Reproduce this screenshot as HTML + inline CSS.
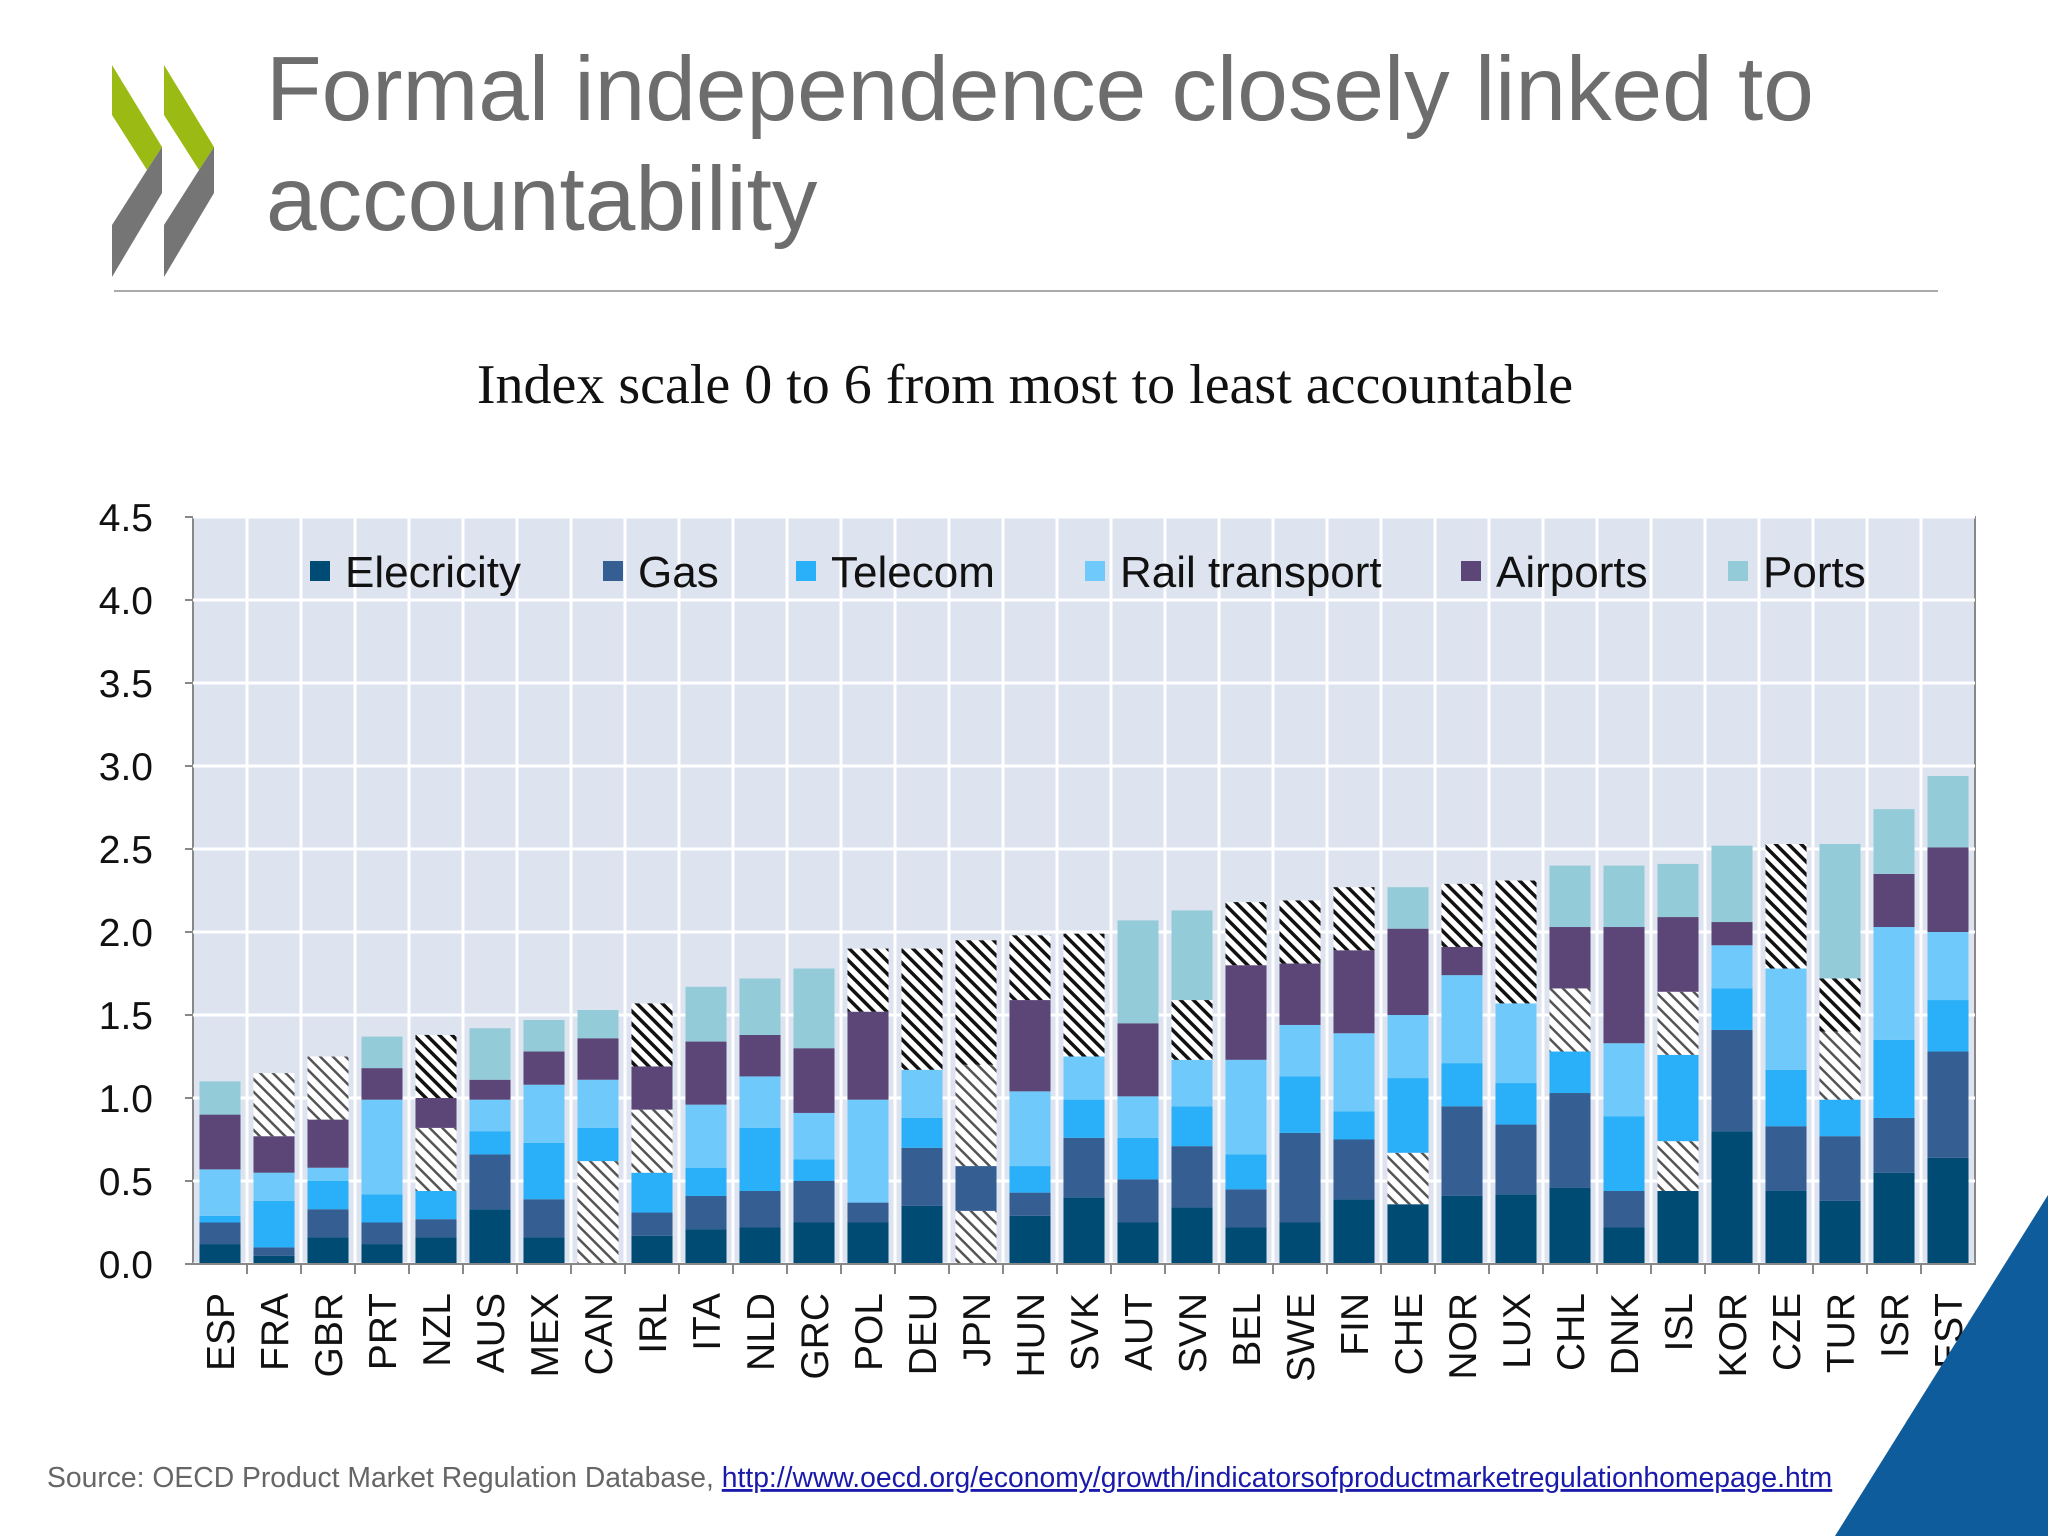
<!DOCTYPE html>
<html><head><meta charset="utf-8"><style>
body{margin:0;width:2048px;height:1536px;background:#fff;overflow:hidden;font-family:"Liberation Sans",sans-serif}
svg{display:block}
</style></head><body>
<svg id="c" width="2048" height="1536" xmlns="http://www.w3.org/2000/svg">
<defs>
<pattern id="hl" width="9" height="9" patternUnits="userSpaceOnUse" patternTransform="rotate(-45)"><rect width="9" height="9" fill="#fff"/><rect width="2.5" height="9" fill="#555"/></pattern>
<pattern id="hd" width="9" height="9" patternUnits="userSpaceOnUse" patternTransform="rotate(-45)"><rect width="9" height="9" fill="#fff"/><rect width="3.5" height="9" fill="#111"/></pattern>
</defs>
<g>
<polygon points="112,65 162,147 147,170 112,115" fill="#9bbb14"/>
<polygon points="147,170 162,147 162,193 112,277 112,225" fill="#757575"/>
<polygon points="164,65 214,147 199,170 164,115" fill="#9bbb14"/>
<polygon points="199,170 214,147 214,193 164,277 164,225" fill="#757575"/>
</g>
<text x="266" y="120" font-size="91" fill="#6d6d6d">Formal independence closely linked to</text>
<text x="266" y="230" font-size="91" fill="#6d6d6d">accountability</text>
<line x1="114" y1="291" x2="1938" y2="291" stroke="#aaa" stroke-width="2"/>
<text x="1025" y="403" font-size="56" text-anchor="middle" font-family="Liberation Serif,serif" fill="#111">Index scale 0 to 6 from most to least accountable</text>
<rect x="193" y="517" width="1782" height="747" fill="#dde4f0" stroke="#888" stroke-width="2"/>
<g id="grid"></g><g id="bars"></g><g id="axes"></g><g id="legend"></g>
<polygon points="2048,1195 2048,1536 1835,1536" fill="#0f5c9c"/>
<text x="47" y="1487" font-size="28.3" fill="#666">Source: OECD Product Market Regulation Database, <tspan fill="#1a1aaa" text-decoration="underline">http://www.oecd.org/economy/growth/indicatorsofproductmarketregulationhomepage.htm</tspan></text>
</svg>
<script>
const countries=["ESP","FRA","GBR","PRT","NZL","AUS","MEX","CAN","IRL","ITA","NLD","GRC","POL","DEU","JPN","HUN","SVK","AUT","SVN","BEL","SWE","FIN","CHE","NOR","LUX","CHL","DNK","ISL","KOR","CZE","TUR","ISR","EST"];
const seriesNames=["Elecricity","Gas","Telecom","Rail transport","Airports","Ports"];
// cumulative tops per series
const elecTop=[0.12,0.05,0.16,0.12,0.16,0.33,0.16,0.62,0.17,0.21,0.22,0.25,0.25,0.35,0.32,0.29,0.40,0.25,0.34,0.22,0.25,0.39,0.36,0.41,0.42,0.46,0.22,0.44,0.80,0.44,0.38,0.55,0.64];
const gasTop=[0.25,0.10,0.33,0.25,0.27,0.66,0.39,0.62,0.31,0.41,0.44,0.50,0.37,0.70,0.59,0.43,0.76,0.51,0.71,0.45,0.79,0.75,0.67,0.95,0.84,1.03,0.44,0.74,1.41,0.83,0.77,0.88,1.28];
const telTop=[0.29,0.38,0.50,0.42,0.44,0.80,0.73,0.82,0.55,0.58,0.82,0.63,0.37,0.88,0.59,0.59,0.99,0.76,0.95,0.66,1.13,0.92,1.12,1.21,1.09,1.28,0.89,1.26,1.66,1.17,0.99,1.35,1.59];
const railTop=[0.57,0.55,0.58,0.99,0.82,0.99,1.08,1.11,0.93,0.96,1.13,0.91,0.99,1.17,1.20,1.04,1.25,1.01,1.23,1.23,1.44,1.39,1.50,1.74,1.57,1.66,1.33,1.64,1.92,1.78,1.40,2.03,2.00];
const airTop=[0.90,0.77,0.87,1.18,1.00,1.11,1.28,1.36,1.19,1.34,1.38,1.30,1.52,1.17,1.20,1.59,1.25,1.45,1.59,1.80,1.81,1.89,2.02,1.91,1.57,2.03,2.03,2.09,2.06,1.78,1.72,2.35,2.51];
const portTop=[1.10,1.15,1.25,1.37,1.38,1.42,1.47,1.53,1.57,1.67,1.72,1.78,1.90,1.90,1.95,1.98,1.99,2.07,2.13,2.18,2.19,2.27,2.27,2.29,2.31,2.40,2.40,2.41,2.52,2.53,2.53,2.74,2.94];
// hatch flags: 0 none, 1 light hatch, 2 dark hatch
const elecHatch=[0,0,0,0,0,0,0,1,0,0,0,0,0,0,1,0,0,0,0,0,0,0,0,0,0,0,0,0,0,0,0,0,0];
const gasHatch=[0,0,0,0,0,0,0,0,0,0,0,0,0,0,0,0,0,0,0,0,0,0,1,0,0,0,0,1,0,0,0,0,0];
const railHatch=[0,0,0,0,1,0,0,0,1,0,0,0,0,0,1,0,0,0,0,0,0,0,0,0,0,1,0,1,0,0,1,0,0];
const airHatch=[0,0,0,0,0,0,0,0,0,0,0,0,0,0,0,0,0,0,2,0,0,0,0,0,0,0,0,0,0,0,2,0,0];
const portHatch=[0,1,1,0,2,0,0,0,2,0,0,0,2,2,2,2,2,0,0,2,2,2,0,2,2,0,0,0,0,2,0,0,0];
const yTicks=["0.0","0.5","1.0","1.5","2.0","2.5","3.0","3.5","4.0","4.5"];
const colors=["#004b73","#355f92","#29b0f8","#6fc9fb","#5b4677","#93cbd9"];
const NS="http://www.w3.org/2000/svg";
const X0=193,X1=1975,Y0=1264,Y1=517,YMAX=4.5;
const step=(X1-X0)/countries.length;
const y=v=>Y0-(v/YMAX)*(Y0-Y1);
const xc=i=>X0+step*(i+0.5);
function mk(tag,attrs,parent){const e=document.createElementNS(NS,tag);for(const k in attrs)e.setAttribute(k,attrs[k]);parent.appendChild(e);return e;}
const grid=document.getElementById('grid'),bars=document.getElementById('bars'),axes=document.getElementById('axes'),leg=document.getElementById('legend');
yTicks.forEach(t=>{const v=parseFloat(t);const yy=y(v);
 const l=mk('line',{x1:X0,x2:X1,y1:yy,y2:yy,stroke:'#fff','stroke-width':3},grid);
 
 
 const tk=mk('line',{x1:X0-8,x2:X0,y1:yy,y2:yy,stroke:'#888','stroke-width':2},axes);
 
 
 const tx=mk('text',{x:153,y:yy+14,'font-size':39,'text-anchor':'end',fill:'#111'},axes);tx.textContent=t;
 
 
});
for(let i=1;i<countries.length;i++){const xx=X0+step*i;
 const l=mk('line',{x1:xx,x2:xx,y1:Y1,y2:Y0,stroke:'#fff','stroke-width':3},grid);
 
 
 const tk=mk('line',{x1:xx,x2:xx,y1:Y0,y2:Y0+10,stroke:'#888','stroke-width':2},axes);
 
 
}
const tops=[elecTop,gasTop,telTop,railTop,airTop,portTop];
const hatches=[elecHatch,gasHatch,null,railHatch,airHatch,portHatch];
const bw=step*0.76;
countries.forEach((c,i)=>{
 let prev=0;
 tops.forEach((arr,s)=>{const top=Math.max(arr[i],prev);
  if(top>prev){const h=hatches[s]?hatches[s][i]:0;
   const r=mk('rect',{x:xc(i)-bw/2,y:y(top),width:bw,height:y(prev)-y(top),fill:h===1?'url(#hl)':h===2?'url(#hd)':colors[s]},bars);
   
   
  }
  prev=top;});
 const t=mk('text',{transform:`translate(${xc(i)+14},1293) rotate(-90)`,'font-size':39,'text-anchor':'end',fill:'#111'},axes);
 t.textContent=c;
 
 
});
mk('line',{x1:X0,x2:X1,y1:Y0,y2:Y0,stroke:'#888','stroke-width':2},axes);
const lx=[310,603,796,1085,1461,1728];
seriesNames.forEach((n,s)=>{
 const g=mk('g',{},leg);
 
 
 mk('rect',{x:lx[s],y:561,width:20,height:20,fill:colors[s]},g);
 const t=mk('text',{x:lx[s]+35,y:587,'font-size':44,fill:'#111'},g);t.textContent=n;
});
</script>
</body></html>
